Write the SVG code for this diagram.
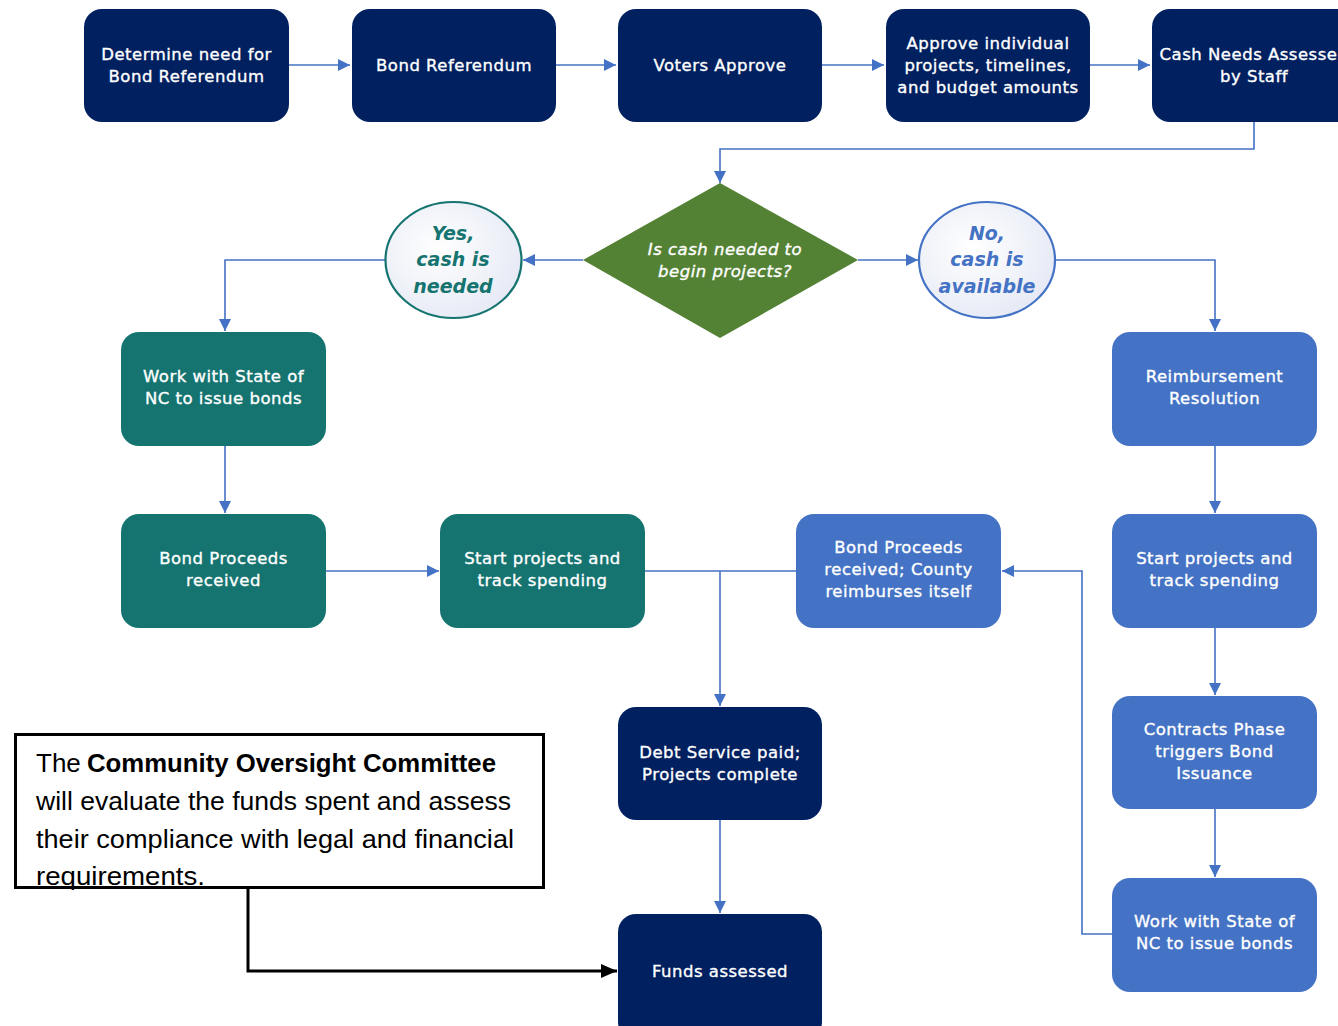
<svg xmlns="http://www.w3.org/2000/svg" width="1338" height="1026" viewBox="0 0 1338 1026">
<style>
.navy{fill:#002060}
.teal{fill:#157470}
.blue{fill:#4472C4}
.nt{font-family:"DejaVu Sans",Verdana,sans-serif;font-size:16.5px;fill:#ffffff;stroke:#ffffff;stroke-width:0.35;text-anchor:middle;dominant-baseline:central;letter-spacing:0.5px}
.ct{font-family:"DejaVu Sans",Verdana,sans-serif;font-size:19px;font-weight:bold;font-style:italic;text-anchor:middle;dominant-baseline:central}
.conn{fill:none;stroke:#4472C4;stroke-width:1.6}
.note{font-family:"Liberation Sans",Arial,sans-serif;font-size:26px;fill:#000}
</style>
<defs>
<marker id="ah" markerUnits="userSpaceOnUse" markerWidth="12" markerHeight="12" refX="12" refY="6" orient="auto">
<path d="M0,0 L12,6 L0,12 z" fill="#4472C4"/>
</marker>
<marker id="ahk" markerUnits="userSpaceOnUse" markerWidth="16" markerHeight="14" refX="16" refY="7" orient="auto">
<path d="M0,0 L16,7 L0,14 z" fill="#000"/>
</marker>
<radialGradient id="cg" cx="0.4" cy="0.4" r="0.7">
<stop offset="0" stop-color="#ffffff"/>
<stop offset="1" stop-color="#e4e8f4"/>
</radialGradient>
</defs>

<g id="connectors">
<path class="conn" d="M289,65 H350" marker-end="url(#ah)"/>
<path class="conn" d="M556,65 H616" marker-end="url(#ah)"/>
<path class="conn" d="M822,65 H884" marker-end="url(#ah)"/>
<path class="conn" d="M1090,65 H1150" marker-end="url(#ah)"/>
<path class="conn" d="M1254,122 V149 H720 V183" marker-end="url(#ah)"/>
<path class="conn" d="M583,260 H523" marker-end="url(#ah)"/>
<path class="conn" d="M858,260 H918" marker-end="url(#ah)"/>
<path class="conn" d="M385,260 H225 V331" marker-end="url(#ah)"/>
<path class="conn" d="M1055,260 H1215 V331" marker-end="url(#ah)"/>
<path class="conn" d="M225,446 V513" marker-end="url(#ah)"/>
<path class="conn" d="M326,571 H439" marker-end="url(#ah)"/>
<path class="conn" d="M645,571 H796"/>
<path class="conn" d="M720,571 V706" marker-end="url(#ah)"/>
<path class="conn" d="M1215,446 V513" marker-end="url(#ah)"/>
<path class="conn" d="M1215,628 V695" marker-end="url(#ah)"/>
<path class="conn" d="M1215,809 V877" marker-end="url(#ah)"/>
<path class="conn" d="M1112,934 H1082 V571 H1002" marker-end="url(#ah)"/>
<path class="conn" d="M720,820 V913" marker-end="url(#ah)"/>
<path d="M248,888 V971 H617" fill="none" stroke="#000" stroke-width="3" marker-end="url(#ahk)"/>
</g>

<g id="n1"><rect class="navy" x="84" y="9" width="205" height="113" rx="18"/>
<text class="nt" x="186.5" y="54">Determine need for</text><text class="nt" x="186.5" y="76">Bond Referendum</text></g>
<g id="n2"><rect class="navy" x="352" y="9" width="204" height="113" rx="18"/>
<text class="nt" x="454" y="65">Bond Referendum</text></g>
<g id="n3"><rect class="navy" x="618" y="9" width="204" height="113" rx="18"/>
<text class="nt" x="720" y="65">Voters Approve</text></g>
<g id="n4"><rect class="navy" x="886" y="9" width="204" height="113" rx="18"/>
<text class="nt" x="988" y="43">Approve individual</text><text class="nt" x="988" y="65">projects, timelines,</text><text class="nt" x="988" y="87">and budget amounts</text></g>
<g id="n5"><rect class="navy" x="1152" y="9" width="205" height="113" rx="18"/>
<text class="nt" x="1254" y="54">Cash Needs Assessed</text><text class="nt" x="1254" y="76">by Staff</text></g>

<g id="decision"><polygon points="720,183 858,260 720,338 583,260" fill="#548235"/>
<text class="nt" x="725" y="249" font-style="italic" font-size="15.5" letter-spacing="0" stroke-width="0">Is cash needed to</text>
<text class="nt" x="725" y="271" font-style="italic" font-size="15.5" letter-spacing="0" stroke-width="0">begin projects?</text></g>

<g id="yes"><ellipse cx="453.5" cy="260" rx="68" ry="58" fill="url(#cg)" stroke="#157470" stroke-width="2.2"/>
<text class="ct" fill="#157470" x="453" y="233">Yes,</text><text class="ct" fill="#157470" x="453" y="259">cash is</text><text class="ct" fill="#157470" x="453" y="286">needed</text></g>
<g id="no"><ellipse cx="987" cy="260" rx="68" ry="58" fill="url(#cg)" stroke="#4472C4" stroke-width="2.2"/>
<text class="ct" fill="#4472C4" x="987" y="233">No,</text><text class="ct" fill="#4472C4" x="987" y="259">cash is</text><text class="ct" fill="#4472C4" x="987" y="286">available</text></g>

<g id="t1"><rect class="teal" x="121" y="332" width="205" height="114" rx="18"/>
<text class="nt" x="223.5" y="376">Work with State of</text><text class="nt" x="223.5" y="398">NC to issue bonds</text></g>
<g id="b1"><rect class="blue" x="1112" y="332" width="205" height="114" rx="18"/>
<text class="nt" x="1214.5" y="376">Reimbursement</text><text class="nt" x="1214.5" y="398">Resolution</text></g>

<g id="t2"><rect class="teal" x="121" y="514" width="205" height="114" rx="18"/>
<text class="nt" x="223.5" y="558">Bond Proceeds</text><text class="nt" x="223.5" y="580">received</text></g>
<g id="t3"><rect class="teal" x="440" y="514" width="205" height="114" rx="18"/>
<text class="nt" x="542.5" y="558">Start projects and</text><text class="nt" x="542.5" y="580">track spending</text></g>
<g id="b3"><rect class="blue" x="796" y="514" width="205" height="114" rx="18"/>
<text class="nt" x="898.5" y="547">Bond Proceeds</text><text class="nt" x="898.5" y="569">received; County</text><text class="nt" x="898.5" y="591">reimburses itself</text></g>
<g id="b2"><rect class="blue" x="1112" y="514" width="205" height="114" rx="18"/>
<text class="nt" x="1214.5" y="558">Start projects and</text><text class="nt" x="1214.5" y="580">track spending</text></g>

<g id="n6"><rect class="navy" x="618" y="707" width="204" height="113" rx="18"/>
<text class="nt" x="720" y="752">Debt Service paid;</text><text class="nt" x="720" y="774">Projects complete</text></g>
<g id="b4"><rect class="blue" x="1112" y="696" width="205" height="113" rx="18"/>
<text class="nt" x="1214.5" y="729">Contracts Phase</text><text class="nt" x="1214.5" y="751">triggers Bond</text><text class="nt" x="1214.5" y="773">Issuance</text></g>

<g id="n7"><rect class="navy" x="618" y="914" width="204" height="126" rx="18"/>
<text class="nt" x="720" y="971">Funds assessed</text></g>
<g id="b5"><rect class="blue" x="1112" y="878" width="205" height="114" rx="18"/>
<text class="nt" x="1214.5" y="921">Work with State of</text><text class="nt" x="1214.5" y="943">NC to issue bonds</text></g>

<g id="note">
<rect x="15.5" y="734.5" width="528" height="153" fill="#fff" stroke="#000" stroke-width="3"/>
<text class="note" x="36" y="772">The</text>
<text class="note" x="87" y="772" font-weight="bold" textLength="409" lengthAdjust="spacingAndGlyphs">Community Oversight Committee</text>
<text class="note" x="36" y="810" textLength="475" lengthAdjust="spacingAndGlyphs">will evaluate the funds spent and assess</text>
<text class="note" x="36" y="848" textLength="478" lengthAdjust="spacingAndGlyphs">their compliance with legal and financial</text>
<text class="note" x="36" y="885" textLength="169" lengthAdjust="spacingAndGlyphs">requirements.</text>
</g>
</svg>
